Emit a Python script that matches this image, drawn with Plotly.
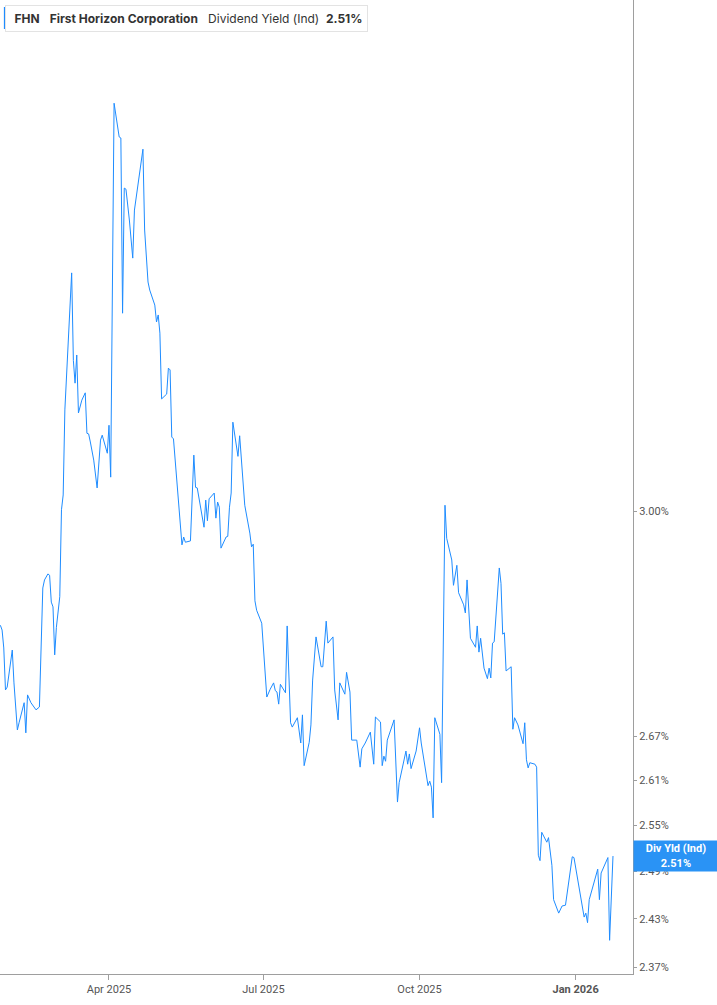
import plotly.graph_objects as go
import math

dates = [
    "2025-01-27","2025-01-28","2025-01-29","2025-01-30","2025-01-31","2025-02-03","2025-02-04","2025-02-06",
    "2025-02-07","2025-02-10","2025-02-11","2025-02-12","2025-02-14","2025-02-17","2025-02-19","2025-02-21",
    "2025-02-22","2025-02-24","2025-02-25","2025-02-26","2025-02-27","2025-02-28","2025-03-01","2025-03-03",
    "2025-03-04","2025-03-05","2025-03-06","2025-03-07","2025-03-10","2025-03-11","2025-03-12","2025-03-13",
    "2025-03-14","2025-03-16","2025-03-18","2025-03-19","2025-03-20","2025-03-21","2025-03-23","2025-03-25",
    "2025-03-27","2025-03-28","2025-03-31","2025-04-01","2025-04-02","2025-04-04","2025-04-07","2025-04-08",
    "2025-04-09","2025-04-10","2025-04-11","2025-04-13","2025-04-15","2025-04-16","2025-04-21","2025-04-22",
    "2025-04-24","2025-04-25","2025-04-28","2025-04-29","2025-04-30","2025-05-01","2025-05-02","2025-05-05",
    "2025-05-06","2025-05-07","2025-05-08","2025-05-09","2025-05-14","2025-05-15","2025-05-16","2025-05-19",
    "2025-05-21","2025-05-22","2025-05-23","2025-05-27","2025-05-28","2025-05-29","2025-05-30","2025-06-02",
    "2025-06-03","2025-06-04","2025-06-05","2025-06-06","2025-06-09","2025-06-10","2025-06-11","2025-06-12",
    "2025-06-13","2025-06-16","2025-06-17","2025-06-20","2025-06-23","2025-06-24","2025-06-25","2025-06-26",
    "2025-06-27","2025-06-30","2025-07-03","2025-07-05","2025-07-07","2025-07-08","2025-07-09","2025-07-10",
    "2025-07-11","2025-07-14","2025-07-15","2025-07-17","2025-07-18","2025-07-21","2025-07-23","2025-07-24",
    "2025-07-25","2025-07-28","2025-07-29","2025-07-30","2025-08-01","2025-08-04","2025-08-05","2025-08-07",
    "2025-08-08","2025-08-11","2025-08-12","2025-08-14","2025-08-15","2025-08-18","2025-08-19","2025-08-21",
    "2025-08-22","2025-08-25","2025-08-27","2025-08-28","2025-08-30","2025-09-02","2025-09-04","2025-09-05",
    "2025-09-08","2025-09-09","2025-09-10","2025-09-11","2025-09-12","2025-09-16","2025-09-18","2025-09-19",
    "2025-09-22","2025-09-23","2025-09-24","2025-09-25","2025-09-26","2025-09-29","2025-10-01","2025-10-02",
    "2025-10-06","2025-10-07","2025-10-08","2025-10-09","2025-10-10","2025-10-13","2025-10-14","2025-10-16",
    "2025-10-17","2025-10-20","2025-10-21","2025-10-23","2025-10-24","2025-10-27","2025-10-28","2025-10-29",
    "2025-10-31","2025-11-03","2025-11-04","2025-11-05","2025-11-06","2025-11-08","2025-11-10","2025-11-11",
    "2025-11-12","2025-11-13","2025-11-14","2025-11-17","2025-11-18","2025-11-19","2025-11-20","2025-11-21",
    "2025-11-24","2025-11-25","2025-11-26","2025-11-28","2025-12-01","2025-12-02","2025-12-03","2025-12-04",
    "2025-12-05","2025-12-08","2025-12-09","2025-12-10","2025-12-11","2025-12-12","2025-12-15","2025-12-16",
    "2025-12-18","2025-12-19","2025-12-22","2025-12-24","2025-12-26","2025-12-30","2025-12-31","2026-01-06",
    "2026-01-07","2026-01-08","2026-01-09","2026-01-14","2026-01-15","2026-01-16","2026-01-20","2026-01-21",
    "2026-01-23",
]

div_yield = [
    2.828,2.821,2.795,2.735,2.739,2.792,2.745,2.679,
    2.689,2.717,2.675,2.728,2.717,2.707,2.711,2.883,
    2.895,2.904,2.902,2.862,2.855,2.785,2.825,2.870,
    3.002,3.025,3.161,3.213,3.393,3.243,3.205,3.252,
    3.156,3.177,3.189,3.123,3.122,3.109,3.080,3.036,
    3.112,3.120,3.091,3.136,3.053,3.704,3.640,3.638,
    3.323,3.545,3.543,3.487,3.419,3.505,3.617,3.469,
    3.377,3.363,3.337,3.308,3.320,3.289,3.179,3.187,
    3.230,3.227,3.117,3.114,2.948,2.960,2.952,2.954,
    3.088,3.037,3.036,2.975,3.017,2.985,3.019,3.028,
    2.989,3.014,3.006,2.943,2.960,2.961,3.006,3.028,
    3.141,3.086,3.119,3.009,2.966,2.945,2.949,2.864,
    2.850,2.831,2.725,2.736,2.745,2.734,2.732,2.715,
    2.743,2.731,2.827,2.689,2.683,2.696,2.661,2.700,
    2.630,2.662,2.686,2.749,2.811,2.768,2.768,2.834,
    2.802,2.811,2.735,2.693,2.745,2.729,2.760,2.732,
    2.665,2.665,2.628,2.653,2.661,2.676,2.632,2.697,
    2.690,2.630,2.643,2.636,2.665,2.693,2.581,2.607,
    2.638,2.650,2.632,2.646,2.626,2.650,2.682,2.661,
    2.603,2.609,2.601,2.560,2.696,2.673,2.607,3.009,
    2.958,2.925,2.887,2.917,2.876,2.858,2.846,2.895,
    2.809,2.796,2.827,2.789,2.809,2.766,2.751,2.766,
    2.752,2.802,2.804,2.913,2.890,2.815,2.817,2.762,
    2.768,2.680,2.696,2.686,2.660,2.689,2.638,2.627,
    2.634,2.632,2.628,2.511,2.504,2.541,2.528,2.534,
    2.498,2.454,2.437,2.446,2.447,2.509,2.508,2.432,
    2.437,2.425,2.454,2.493,2.454,2.488,2.508,2.403,
    2.510,
]

y_tick_vals = [2.37, 2.43, 2.49, 2.55, 2.61, 2.67, 3.00]
y_tick_text = ["2.37%", "2.43%", "2.49%", "2.55%", "2.61%", "2.67%", "3.00%"]
x_tick_vals = ["2025-04-01", "2025-07-01", "2025-10-01", "2026-01-01"]
x_tick_text = ["Apr 2025", "Jul 2025", "Oct 2025", "<b>Jan 2026</b>"]

ticker = "FHN"
company = "First Horizon Corporation"
metric = "Dividend Yield (Ind)"
last_label = "2.51%"

LINE = "#1e8cff"
AXIS = "#9e9e9e"
TXT = "#555555"

fig = go.Figure()
fig.add_trace(go.Scatter(
    x=dates, y=div_yield, mode="lines",
    line=dict(color=LINE, width=1), hoverinfo="skip", showlegend=False,
))

fig.update_layout(
    width=717, height=1005,
    margin=dict(l=0, r=84, t=0, b=31),
    paper_bgcolor="white", plot_bgcolor="white",
    font=dict(family="Roboto, Inter, sans-serif", size=11, color=TXT),
    showlegend=False,
)

fig.update_xaxes(
    type="date",
    range=["2025-01-26 18:30", "2026-02-03 19:00"],
    tickvals=x_tick_vals, ticktext=x_tick_text,
    ticks="outside", ticklen=5, tickcolor=AXIS, tickwidth=1,
    showline=True, linecolor=AXIS, linewidth=1,
    showgrid=False, zeroline=False,
    tickfont=dict(size=11, color=TXT),
)

fig.update_yaxes(
    type="log", side="right",
    range=[math.log10(2.3615), math.log10(3.907)],
    tickvals=y_tick_vals, ticktext=y_tick_text,
    ticks="outside", ticklen=3, tickcolor=AXIS,
    showline=True, linecolor=AXIS, linewidth=1,
    showgrid=False, zeroline=False,
    tickfont=dict(size=11, color=TXT),
)

# Header legend box
fig.add_annotation(
    xref="paper", yref="paper", x=0.0, y=1.0, xshift=5, yshift=-5,
    xanchor="left", yanchor="top", showarrow=False, align="left",
    text=(f"&nbsp;<b>{ticker}</b>&nbsp;&nbsp; <b>{company}</b>&nbsp;&nbsp; "
          f"{metric}&nbsp; <b>{last_label}</b>"),
    font=dict(family="Inter, Roboto, sans-serif", size=12, color="#333333"),
    bgcolor="white", bordercolor="#e3e3e3", borderwidth=1, borderpad=5,
)
fig.add_shape(type="line", xref="paper", yref="paper",
              x0=0.0085, x1=0.0085, y0=1 - 7 / 974, y1=1 - 29 / 974,
              line=dict(color=LINE, width=3))

# Last value tag
fig.add_annotation(
    xref="paper", yref="y", x=1.0, y=math.log10(div_yield[-1]),
    xanchor="left", yanchor="middle", showarrow=False,
    text=f"<b>Div Yld (Ind)</b><br><b>{last_label}</b>",
    font=dict(family="Roboto, sans-serif", size=11, color="white"),
    bgcolor="#2a93f5", width=80, height=26, borderpad=2, align="center",
)

fig.write_html("out.html", config={"displayModeBar": False},
               post_script="document.body.style.margin='0';")
